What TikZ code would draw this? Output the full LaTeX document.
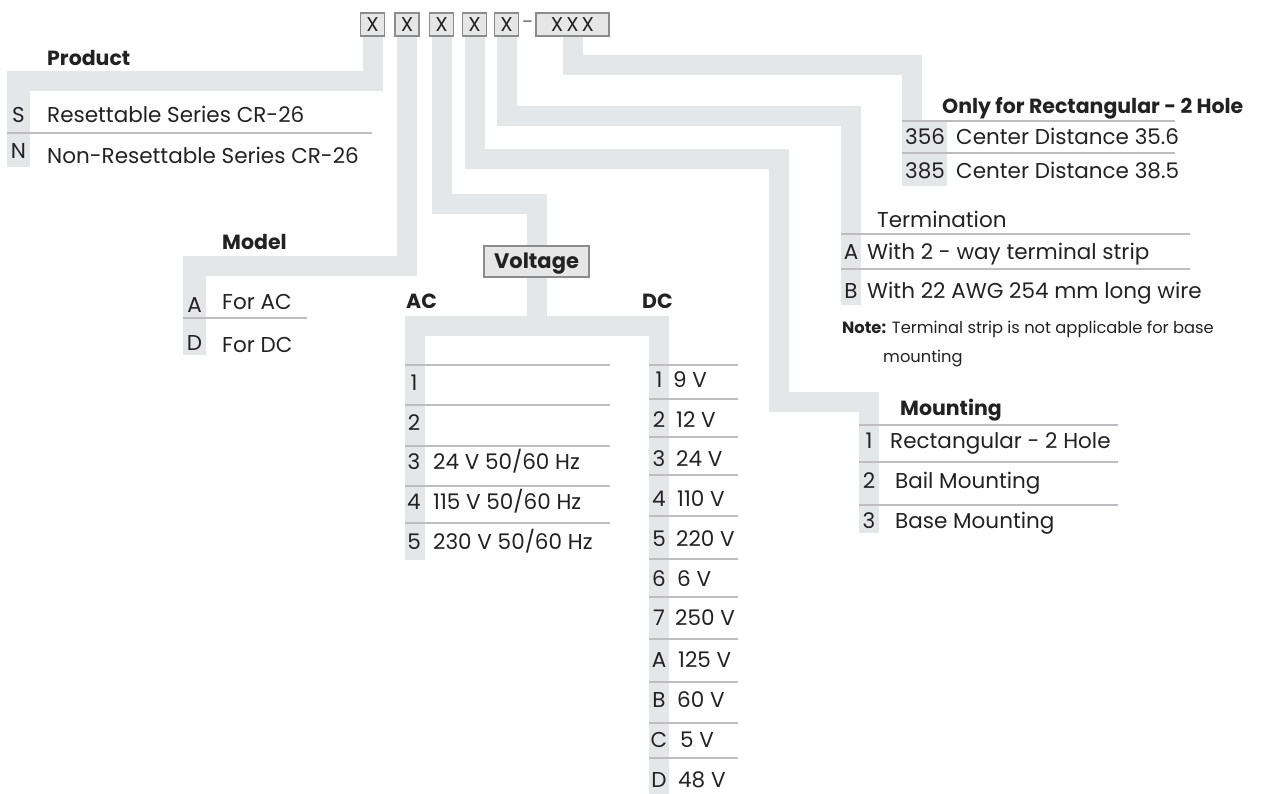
\documentclass[tikz,border=0pt]{standalone}
\usepackage{fontspec}
\setmainfont{Poppins}
\usetikzlibrary{backgrounds}
\definecolor{bandc}{RGB}{229,230,232}
\definecolor{boxfill}{RGB}{230,230,230}
\definecolor{boxdraw}{RGB}{140,140,140}
\definecolor{sepc}{RGB}{190,190,193}
\definecolor{ink}{RGB}{34,34,34}
\begin{document}
\begin{tikzpicture}[x=1pt,y=-1pt,
  bandline/.style={draw=bandc,line width=20pt,line join=miter},
  sepline/.style={draw=sepc,line width=1.5pt},
  code/.style={draw=boxdraw,fill=boxfill,line width=1.2pt,minimum height=23pt,inner sep=0pt,
    font=\fontsize{20}{20}\selectfont,text=ink,text height=14pt,text depth=0pt},
  txt/.style={anchor=west,inner sep=0pt,text=ink,font=\fontsize{21.5}{21.5}\selectfont,text height=15pt,text depth=0pt},
  lab/.style={anchor=center,inner sep=0pt,text=ink,font=\fontsize{21.5}{21.5}\selectfont,text height=15pt,text depth=0pt},
  hd/.style={anchor=west,inner sep=0pt,text=ink,font=\bfseries\fontsize{20.5}{20.5}\selectfont,text height=14.5pt,text depth=0pt},
  note/.style={anchor=west,inner sep=0pt,text=ink,font=\fontsize{16.3}{16.3}\selectfont,text height=11.5pt,text depth=0pt}
]
\useasboundingbox (0,0) rectangle (1263,794);

% code boxes
\node[code,minimum width=24pt] (b1) at (372.5,24.5) {X};
\node[code,minimum width=24pt] (b2) at (407,24.5) {X};
\node[code,minimum width=24pt] (b3) at (441.5,24.5) {X};
\node[code,minimum width=24pt] (b4) at (474.5,24.5) {X};
\node[code,minimum width=24pt] (b5) at (506.5,24.5) {X};
\node[anchor=center,inner sep=0pt,text=ink!80,font=\fontsize{16}{16}\selectfont] (dash) at (527.5,24) {–};
\node[code,minimum width=73pt] (b6) at (572.5,24.5) {X\hspace{3pt}X\hspace{3pt}X};

% Voltage box
\node[code,minimum width=105pt,minimum height=31pt,font=\bfseries\fontsize{21}{21}\selectfont,text height=15pt] (volt) at (536.5,261.5) {Voltage};

% coordinates for connectors
\coordinate (prodL) at (7,81);
\coordinate (modL) at (183,266);
\coordinate (vc1) at (536.5,204.5);
\coordinate (vc2) at (536.5,326);
\coordinate (acL) at (405,326);
\coordinate (dcR) at (669,326);
\coordinate (m1) at (779,159);
\coordinate (m2) at (779,402);
\coordinate (m3) at (869,402);
\coordinate (m4) at (869,533);
\coordinate (t1) at (851,116);
\coordinate (t2) at (851,305);
\coordinate (h1) at (912,65.5);
\coordinate (h2) at (912,121);

\begin{scope}[on background layer]
  \fill[white] (0,0) rectangle (1263,794);
  \draw[bandline] (b1.south) |- (prodL);
  \draw[bandline] (b2.south) |- (modL);
  \draw[bandline] (b3.south) |- (vc1) -- (volt.north);
  \draw[bandline] (volt.south) -- (vc2);
  \draw[bandline] (acL) -- (dcR);
  \draw[bandline] (b4.south) |- (m1) -- (m2) -- (m3) -- (m4);
  \draw[bandline] (b5.south) |- (t1) -- (t2);
  \draw[bandline] (b6.south) |- (h1) -- (h2);
  % table columns
  \fill[bandc] (7,71) rectangle (30,167);
  \fill[bandc] (183,256) rectangle (206,355);
  \fill[bandc] (405,316) rectangle (425,560);
  \fill[bandc] (649,316) rectangle (669,794);
  \fill[bandc] (902,121) rectangle (947,186);
\end{scope}

% ---------- Product
\node[hd] (prodT) at (47,58) {Product};
\draw[sepline] (7,133) -- (372,133);
\node[lab] (pS) at (18.5,115) {S};
\node[txt] (pSt) at (47,115) {Resettable Series CR-26};
\node[lab] (pN) at (18.5,151) {N};
\node[txt] (pNt) at (47,156) {Non-Resettable Series CR-26};

% ---------- Model
\node[hd] (modT) at (222,242) {Model};
\draw[sepline] (183,318) -- (307,318);
\node[lab] (mA) at (194.5,305) {A};
\node[txt] (mAt) at (222,302) {For AC};
\node[lab] (mD) at (194.5,343) {D};
\node[txt] (mDt) at (222,345) {For DC};

% ---------- Voltage
\node[hd] (acT) at (406,301) {AC};
\node[hd] (dcT) at (642,301) {DC};
\foreach \y in {365,405,446,486,523} \draw[sepline] (405,\y) -- (610,\y);
\node[lab] (a1) at (414,383) {1};
\node[lab] (a2) at (414,423) {2};
\node[lab] (a3) at (414,462) {3};
\node[txt] (a3t) at (433,462) {24 V 50/60 Hz};
\node[lab] (a4) at (414,502) {4};
\node[txt] (a4t) at (433,502) {115 V 50/60 Hz};
\node[lab] (a5) at (414,542) {5};
\node[txt] (a5t) at (433,542) {230 V 50/60 Hz};

\foreach \y in {365,399,437,475,516,559,597,639,682,723,758} \draw[sepline] (649,\y) -- (738,\y);
\node[lab] (d1) at (659,380) {1};  \node[txt] (d1t) at (673,380) {9 V};
\node[lab] (d2) at (659,420) {2};  \node[txt] (d2t) at (676,420) {12 V};
\node[lab] (d3) at (659,459) {3};  \node[txt] (d3t) at (676,459) {24 V};
\node[lab] (d4) at (659,499) {4};  \node[txt] (d4t) at (677,499) {110 V};
\node[lab] (d5) at (659,539) {5};  \node[txt] (d5t) at (676,539) {220 V};
\node[lab] (d6) at (659,579) {6};  \node[txt] (d6t) at (677,579) {6 V};
\node[lab] (d7) at (659,618) {7};  \node[txt] (d7t) at (675,618) {250 V};
\node[lab] (dA) at (659,660) {A};  \node[txt] (dAt) at (678,660) {125 V};
\node[lab] (dB) at (659,700) {B};  \node[txt] (dBt) at (677,700) {60 V};
\node[lab] (dC) at (659,740) {C};  \node[txt] (dCt) at (680,740) {5 V};
\node[lab] (dD) at (659,780) {D};  \node[txt] (dDt) at (678,780) {48 V};

% ---------- Only for Rectangular - 2 Hole
\node[hd] (hT) at (942,106) {Only for Rectangular - 2 Hole};
\draw[sepline] (902,121) -- (1175,121);
\draw[sepline] (902,153) -- (1175,153);
\node[txt] (h356) at (905,137) {356};
\node[txt] (h356t) at (956,137) {Center Distance 35.6};
\node[txt] (h385) at (905,171) {385};
\node[txt] (h385t) at (956,171) {Center Distance 38.5};

% ---------- Termination
\node[txt] (tT) at (877,220) {Termination};
\draw[sepline] (841,234) -- (1190,234);
\draw[sepline] (841,269) -- (1190,269);
\node[lab] (tA) at (851,252) {A};
\node[txt] (tAt) at (867,252) {With 2 - way terminal strip};
\node[lab] (tB) at (851,291) {B};
\node[txt] (tBt) at (867,291) {With 22 AWG 254 mm long wire};
\node[note] (nt1) at (842,328) {{\bfseries Note:} Terminal strip is not applicable for base};
\node[note] (nt2) at (883,357) {mounting};

% ---------- Mounting
\node[hd] (mT) at (900,408) {Mounting};
\foreach \y in {425,462,505} \draw[sepline] (859,\y) -- (1118,\y);
\node[lab] (mo1) at (869,441) {1}; \node[txt] (mo1t) at (890,441) {Rectangular - 2 Hole};
\node[lab] (mo2) at (869,481) {2}; \node[txt] (mo2t) at (895,481) {Bail Mounting};
\node[lab] (mo3) at (869,521) {3}; \node[txt] (mo3t) at (895,521) {Base Mounting};
\end{tikzpicture}
\end{document}
